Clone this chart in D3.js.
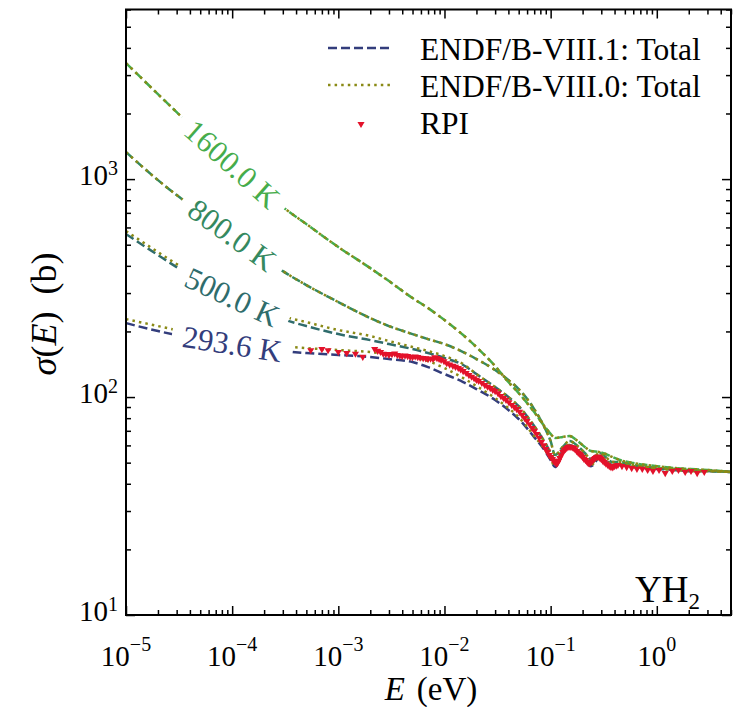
<!DOCTYPE html>
<html>
<head>
<meta charset="utf-8">
<script src="https://cdnjs.cloudflare.com/ajax/libs/d3/7.8.5/d3.min.js"></script>
<style>
  body { margin: 0; background: #fff; }
  svg { display: block; font-family: "Liberation Serif", "DejaVu Serif", serif; }
</style>
</head>
<body>
<svg id="chart"></svg>
<script>
// energy grid shared by the evaluated curves (eV)
var energy = [1e-5, 2e-5, 3e-5, 5e-5, 1e-4, 2e-4, 3e-4, 5e-4, 1e-3, 2e-3, 3e-3, 5e-3, 7e-3,
  0.01, 0.015, 0.02, 0.03, 0.04, 0.05, 0.07, 0.09, 0.1, 0.11, 0.13, 0.15, 0.18, 0.21, 0.24,
  0.29, 0.33, 0.38, 0.45, 0.6, 0.8, 1, 1.5, 2, 3, 5];

// ENDF/B-VIII.1 total cross sections (b)
var viii1_293 = [218.5, 200.8, 192.5, 184.5, 175.0, 166.1, 162.6, 159.2, 155.9, 152.6, 149.4, 144.7, 137.2,
  127.5, 117.2, 108.8, 96.9, 87.2, 79.3, 65.5, 55.9, 51.4, 47.7, 55.4, 59.0, 55.9, 51.4, 48.2,
  52.5, 50.3, 47.7, 48.8, 47.7, 47.2, 46.8, 46.3, 45.8, 45.8, 45.3];
var viii1_500 = [559.4, 448.1, 394.7, 340.5, 287.5, 248.0, 227.9, 211.7, 194.5, 182.5, 175.0, 166.1, 159.2,
  151.0, 140.3, 127.5, 111.1, 100.0, 90.9, 73.6, 60.9, 55.4, 50.8, 56.5, 60.2, 57.1, 53.1, 49.8,
  53.6, 51.4, 48.8, 49.3, 48.2, 47.7, 47.2, 46.3, 45.8, 45.8, 45.3];
var viii1_800 = [1330, 989.5, 844.6, 705.7, 553.5, 434.1, 378.4, 326.4, 272.8, 230.3, 211.7, 194.5, 184.5,
  175.0, 160.9, 149.4, 133.0, 119.7, 108.8, 88.1, 70.6, 62.8, 54.2, 59.0, 62.8, 59.6, 55.4, 51.9,
  55.4, 53.1, 50.3, 50.3, 48.8, 47.7, 47.2, 46.8, 46.3, 45.8, 45.3];
var viii1_1600 = [3405, 2454, 2029, 1591, 1172, 871.8, 744.0, 621.8, 487.7, 390.5, 340.5, 284.5, 256.1,
  225.6, 192.5, 169.6, 138.7, 117.2, 104.3, 85.3, 72.1, 67.7, 64.9, 65.6, 66.2, 62.8, 59.0, 56.5,
  55.9, 54.8, 53.1, 51.4, 49.8, 48.8, 48.2, 47.2, 46.8, 46.3, 45.3];

// ENDF/B-VIII.0 total cross sections (b)
var viii0_293 = [227.9, 211.7, 203.0, 194.5, 184.5, 176.9, 171.4, 167.8, 164.3, 160.9, 157.5, 152.6, 146.3,
  135.8, 122.2, 112.3, 98.9, 89.0, 80.9, 66.2, 56.5, 51.9, 48.2, 55.4, 59.0, 55.9, 51.4, 48.8,
  52.5, 50.3, 48.2, 48.8, 47.7, 47.2, 46.8, 46.3, 45.8, 45.8, 45.3];
var viii0_500 = [577.4, 462.5, 407.4, 351.6, 296.8, 256.1, 235.2, 220.8, 203.0, 190.5, 180.7, 169.6, 162.6,
  154.2, 141.7, 127.5, 111.1, 100.0, 90.9, 73.6, 60.9, 55.4, 50.8, 56.5, 60.2, 57.1, 53.1, 49.8,
  53.6, 51.4, 48.8, 49.3, 48.2, 47.7, 47.2, 46.3, 45.8, 45.8, 45.3];
var viii0_800 = [1330, 989.5, 844.6, 705.7, 553.5, 434.1, 378.4, 326.4, 272.8, 230.3, 211.7, 194.5, 184.5,
  175.0, 160.9, 149.4, 133.0, 119.7, 108.8, 88.1, 70.6, 62.8, 54.2, 59.0, 62.8, 59.6, 55.4, 51.9,
  55.4, 53.1, 50.3, 50.3, 48.8, 47.7, 47.2, 46.8, 46.3, 45.8, 45.3];
var viii0_1600 = [3405, 2454, 2029, 1591, 1172, 871.8, 744.0, 621.8, 487.7, 390.5, 340.5, 284.5, 256.1,
  225.6, 192.5, 169.6, 138.7, 117.2, 104.3, 85.3, 72.1, 67.7, 64.9, 65.6, 66.2, 62.8, 59.0, 56.5,
  55.9, 54.8, 53.1, 51.4, 49.8, 48.8, 48.2, 47.2, 46.8, 46.3, 45.3];

var temperatures = ["293.6 K", "500.0 K", "800.0 K", "1600.0 K"];

// RPI measurement
var rpiEnergy = [5.5e-4, 7e-4, 8e-4, 1.0e-3, 1.2e-3, 1.45e-3, 1.7e-3,
  2.2e-3, 2.35e-3, 2.5e-3, 2.65e-3, 2.8e-3, 3.0e-3, 3.2e-3, 3.4e-3, 3.6e-3, 3.8e-3, 4e-3, 4.25e-3,
  4.5e-3, 4.75e-3, 5e-3, 5.3e-3, 5.6e-3, 5.9e-3, 6.3e-3, 6.65e-3, 7e-3, 7.4e-3, 7.8e-3, 8.1e-3,
  8.5e-3, 8.9e-3, 9.3e-3, 9.9e-3, 0.0105, 0.0112, 0.012, 0.0127, 0.0135, 0.0142, 0.015, 0.016,
  0.017, 0.018, 0.019, 0.020, 0.021, 0.0225, 0.024, 0.0255, 0.027, 0.0285, 0.030, 0.032, 0.034,
  0.036, 0.038, 0.0405, 0.043, 0.0455, 0.048, 0.051, 0.054, 0.057, 0.06, 0.0635, 0.067, 0.0705,
  0.074, 0.078, 0.082, 0.086, 0.09, 0.0935, 0.097, 0.1005, 0.104, 0.107, 0.11, 0.113, 0.116,
  0.119, 0.122, 0.126, 0.13, 0.134, 0.138, 0.142, 0.146, 0.150, 0.155, 0.160, 0.165, 0.170,
  0.176, 0.182, 0.188, 0.194, 0.2, 0.206, 0.213, 0.22, 0.226, 0.233, 0.24, 0.248, 0.255, 0.262,
  0.27, 0.278, 0.285, 0.292, 0.3, 0.31, 0.32, 0.332, 0.345, 0.357, 0.37, 0.385, 0.4, 0.415,
  0.43, 0.47, 0.52, 0.58, 0.65, 0.73, 0.82, 0.92, 1.05, 1.2, 1.4, 1.6, 1.85, 2.1, 2.4, 2.8];
var rpiSigma = [164, 166, 164, 161, 159, 158, 153,
  166, 163, 161, 158, 157.5, 156, 157.5, 158.5, 156, 155, 154, 155,
  154, 153, 152.5, 153.5, 152.5, 151.5, 151, 150.5, 149.5, 150, 149.5, 152,
  151, 149.5, 148, 146, 143, 141, 139, 137.5, 136, 134, 131.5, 129,
  126, 124, 122, 120, 118.5, 116, 113.5, 111.5, 110, 108, 106.5, 104, 101,
  99, 97, 94.5, 92, 90, 88, 85.5, 82.7, 80, 77.6, 75, 72, 70,
  67.7, 65, 62.2, 60, 57.7, 56, 54.2, 53, 51.9, 51, 50.3, 49.5, 49.8,
  51, 52.5, 54, 55.9, 57, 57.7, 58.5, 59, 59.2, 59, 58.8, 58.4, 57.5,
  56.5, 55.5, 54.8, 54, 53.1, 52, 51.4, 50.5, 49.8, 49.6, 50.3, 51, 51.9, 52.5,
  53.1, 53.3, 53.1, 52.5, 51.9, 51, 50.3, 49.5, 48.8, 48.2, 47.7, 47.6, 48.2, 48.5,
  48.8, 48.2, 47.7, 47.2, 46.8, 46.8, 46.3, 45.8, 46.3, 44.8, 45.8, 46.3, 45.3, 45.8, 44.8, 45.3];

var xDecades = [1e-5, 1e-4, 1e-3, 1e-2, 1e-1, 1];
var xExponents = ["\u22125", "\u22124", "\u22123", "\u22122", "\u22121", "0"];
var yDecades = [10, 100, 1000];
var yExponents = ["1", "2", "3"];

var width = 738, height = 707;
var plotL = 126, plotR = 731, plotT = 9.5, plotB = 615;

var lineColors = ["#333d7c", "#2f6c6c", "#35895f", "#46ac4b"];
var oliveColor = "#8a8a16";
var rpiColor = "#e3122b";

var svg = d3.select("#chart")
  .attr("width", width)
  .attr("height", height);

var x = d3.scaleLog().domain([1e-5, 5]).range([plotL, plotR]);
var y = d3.scaleLog().domain([10, 6000]).range([plotB, plotT]);

function minorTicks(scale) {
  var d = scale.domain();
  var out = [];
  for (var p = Math.floor(Math.log10(d[0])); p <= Math.ceil(Math.log10(d[1])); p++) {
    for (var k = 2; k <= 9; k++) {
      var v = k * Math.pow(10, p);
      if (v >= d[0] && v <= d[1]) out.push(v);
    }
  }
  return out;
}

function drawTicks(axisFn, scale, values, size, transform) {
  svg.append("g")
    .attr("transform", transform)
    .call(axisFn(scale).tickValues(values).tickSize(-size).tickFormat(""))
    .call(function (g) { g.select(".domain").remove(); })
    .selectAll("line")
    .attr("stroke", "#000")
    .attr("stroke-width", 1.5);
}

[[d3.axisBottom, "translate(0," + plotB + ")"], [d3.axisTop, "translate(0," + plotT + ")"]].forEach(function (a) {
  drawTicks(a[0], x, xDecades, 9, a[1]);
  drawTicks(a[0], x, minorTicks(x), 5, a[1]);
});
[[d3.axisLeft, "translate(" + plotL + ",0)"], [d3.axisRight, "translate(" + plotR + ",0)"]].forEach(function (a) {
  drawTicks(a[0], y, yDecades, 9, a[1]);
  drawTicks(a[0], y, minorTicks(y), 5, a[1]);
});

// curves
var line = d3.line()
  .x(function (d) { return x(d[0]); })
  .y(function (d) { return y(d[1]); })
  .curve(d3.curveMonotoneX);

var plot = svg.append("g");
plot.append("clipPath").attr("id", "clip")
  .append("rect").attr("x", plotL).attr("y", plotT).attr("width", plotR - plotL).attr("height", plotB - plotT);
var curves = plot.append("g").attr("clip-path", "url(#clip)");

var v81 = [viii1_293, viii1_500, viii1_800, viii1_1600];
var v80 = [viii0_293, viii0_500, viii0_800, viii0_1600];

v81.forEach(function (vals, i) {
  curves.append("path")
    .datum(d3.zip(energy, vals))
    .attr("d", line)
    .attr("fill", "none")
    .attr("stroke", lineColors[i])
    .attr("stroke-width", 2.5)
    .attr("stroke-dasharray", "9,4");
});
v80.forEach(function (vals) {
  curves.append("path")
    .datum(d3.zip(energy, vals))
    .attr("d", line)
    .attr("fill", "none")
    .attr("stroke", oliveColor)
    .attr("stroke-width", 2.5)
    .attr("stroke-dasharray", "2.5,4.1");
});

// inline temperature labels at E = 1e-4
var labelIndex = energy.indexOf(1e-4);
v81.forEach(function (vals, i) {
  var cx = x(energy[labelIndex]);
  var cy = y(vals[labelIndex]);
  var ang = Math.atan2(y(vals[labelIndex + 1]) - y(vals[labelIndex - 1]),
    x(energy[labelIndex + 1]) - x(energy[labelIndex - 1])) * 180 / Math.PI;
  var g = curves.append("g")
    .attr("transform", "translate(" + cx + "," + cy + ") rotate(" + ang + ")");
  var bg = g.append("rect").attr("fill", "#fff");
  var t = g.append("text")
    .attr("text-anchor", "middle")
    .attr("dy", "0.34em")
    .attr("font-size", 31)
    .attr("fill", lineColors[i])
    .text(temperatures[i]);
  var w = t.node().getComputedTextLength();
  bg.attr("x", -w / 2 - 11).attr("y", -13).attr("width", w + 22).attr("height", 26);
});

// RPI points
var tri = d3.symbol().type(d3.symbolTriangle).size(22);
curves.append("g")
  .selectAll("path")
  .data(d3.zip(rpiEnergy, rpiSigma))
  .enter()
  .append("path")
  .attr("d", tri)
  .attr("fill", rpiColor)
  .attr("transform", function (d) { return "translate(" + x(d[0]) + "," + y(d[1]) + ") rotate(180)"; });

// frame
svg.append("rect")
  .attr("x", plotL).attr("y", plotT)
  .attr("width", plotR - plotL).attr("height", plotB - plotT)
  .attr("fill", "none")
  .attr("stroke", "#000")
  .attr("stroke-width", 2);

// tick labels
xDecades.forEach(function (v, i) {
  var t = svg.append("text")
    .attr("x", x(v))
    .attr("y", 666)
    .attr("text-anchor", "middle")
    .attr("font-size", 29);
  t.append("tspan").text("10");
  t.append("tspan").attr("dy", -15).attr("font-size", 20).text(xExponents[i]);
});
yDecades.forEach(function (v, i) {
  var t = svg.append("text")
    .attr("x", 118)
    .attr("y", y(v) + 6)
    .attr("text-anchor", "end")
    .attr("font-size", 29);
  t.append("tspan").text("10");
  t.append("tspan").attr("dy", -10).attr("font-size", 20).text(yExponents[i]);
});

// axis titles
var xt = svg.append("text")
  .attr("x", 431)
  .attr("y", 700)
  .attr("text-anchor", "middle")
  .attr("font-size", 33);
xt.append("tspan").attr("font-style", "italic").text("E");
xt.append("tspan").attr("dx", 12).text("(eV)");

var yt = svg.append("text")
  .attr("transform", "translate(56,314) rotate(-90)")
  .attr("text-anchor", "middle")
  .attr("font-size", 36);
yt.append("tspan").attr("font-style", "italic").text("\u03c3");
yt.append("tspan").text("(");
yt.append("tspan").attr("font-style", "italic").text("E");
yt.append("tspan").text(")");
yt.append("tspan").attr("dx", 17).text("(b)");

// material
var mat = svg.append("text")
  .attr("x", 635)
  .attr("y", 602)
  .attr("font-size", 37);
mat.append("tspan").text("YH");
mat.append("tspan").attr("dy", 7).attr("font-size", 23).text("2");

// legend
var legend = svg.append("g");
var rows = [
  { label: "ENDF/B-VIII.1: Total", color: lineColors[0], dash: "9,4" },
  { label: "ENDF/B-VIII.0: Total", color: oliveColor, dash: "2.5,4.1" },
  { label: "RPI", color: rpiColor, dash: null }
];
rows.forEach(function (r, i) {
  var yy = 48 + i * 37;
  if (r.dash) {
    legend.append("line")
      .attr("x1", 328).attr("x2", 392)
      .attr("y1", yy).attr("y2", yy)
      .attr("stroke", r.color)
      .attr("stroke-width", 2.5)
      .attr("stroke-dasharray", r.dash);
  } else {
    legend.append("path")
      .attr("d", tri)
      .attr("fill", r.color)
      .attr("transform", "translate(361," + (yy + 2) + ") rotate(180)");
  }
  legend.append("text")
    .attr("x", 420)
    .attr("y", yy + 12)
    .attr("font-size", 31.5)
    .text(r.label);
});
</script>
</body>
</html>
